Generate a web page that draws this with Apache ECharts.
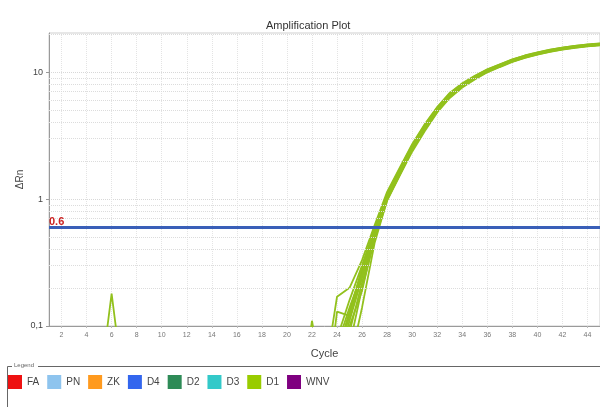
<!DOCTYPE html>
<html>
<head>
<meta charset="utf-8">
<script src="https://cdn.jsdelivr.net/npm/echarts@6/dist/echarts.min.js"></script>
<style>
  html, body { margin: 0; padding: 0; background: #fff; }
  #chart { width: 600px; height: 407px; }
</style>
</head>
<body>
<div id="chart"></div>
<script>
// Cycle numbers 1..45
const cycles = [1,2,3,4,5,6,7,8,9,10,11,12,13,14,15,16,17,18,19,20,21,22,23,24,25,26,27,28,29,30,31,32,33,34,35,36,37,38,39,40,41,42,43,44,45];

// Even cycle tick labels
const cycleTicks = [2,4,6,8,10,12,14,16,18,20,22,24,26,28,30,32,34,36,38,40,42,44];

// ΔRn tick labels on the log axis
const rnTicks = [0.1, 1, 10];

// Detection threshold
const threshold = 0.6;

// Targets shown in the legend
const targets = ['FA', 'PN', 'ZK', 'D4', 'D2', 'D3', 'D1', 'WNV'];
const targetColors = ['#ee1111', '#8ec4ee', '#ff9a1e', '#3366ee', '#2e8b57', '#33c9c9', '#99cc00', '#7f0080'];

// Baseline readings of the D1 wells, cycles 1..22 (below the visible range)
const baseA = [0.02,0.03,0.02,0.02,0.03,0.02,0.03,0.02,0.02,0.03,0.02,0.02,0.03,0.02,0.02,0.03,0.02,0.02,0.03,0.02,0.02,0.03];
const baseB = [0.03,0.02,0.03,0.02,0.03,0.18,0.03,0.02,0.02,0.03,0.02,0.03,0.02,0.02,0.03,0.02,0.03,0.02,0.02,0.03,0.02,0.11];

// D1 wells, cycles 23..45
const d1Wells = [
  [0.03,0.06,0.13,0.28,0.55,1.05,1.65,2.55,3.70,5.10,6.60,7.90,9.10,10.3,11.3,12.4,13.3,14.1,14.8,15.4,15.9,16.3,16.6],
  [0.02,0.05,0.11,0.24,0.52,1.00,1.56,2.42,3.50,4.90,6.35,7.65,8.85,10.0,11.0,12.1,13.0,13.8,14.5,15.1,15.6,16.0,16.3],
  [0.04,0.17,0.20,0.33,0.62,1.14,1.76,2.70,3.88,5.30,6.85,8.15,9.35,10.5,11.5,12.6,13.5,14.3,15.0,15.6,16.1,16.5,16.8],
  [0.02,0.13,0.12,0.27,0.56,1.06,1.62,2.52,3.65,5.05,6.55,7.85,9.05,10.2,11.25,12.3,13.2,14.0,14.7,15.3,15.8,16.2,16.5],
  [0.03,0.04,0.07,0.20,0.48,0.97,1.52,2.36,3.42,4.80,6.25,7.55,8.75,9.95,10.95,12.0,12.9,13.7,14.4,15.0,15.5,15.9,16.2],
  [0.02,0.03,0.05,0.14,0.45,0.98,1.55,2.45,3.60,5.00,6.45,7.75,8.95,10.1,11.15,12.2,13.1,13.9,14.6,15.2,15.7,16.1,16.4],
  [0.03,0.08,0.16,0.30,0.58,1.10,1.72,2.66,3.82,5.24,6.76,8.05,9.25,10.45,11.45,12.55,13.45,14.25,14.95,15.55,16.05,16.45,16.75],
  [0.02,0.05,0.09,0.22,0.50,1.00,1.60,2.50,3.62,5.05,6.50,7.80,9.00,10.2,11.2,12.25,13.15,13.95,14.65,15.25,15.75,16.15,16.45],
  [0.03,0.07,0.14,0.26,0.54,1.04,1.64,2.55,3.68,5.08,6.58,7.88,9.08,10.28,11.28,12.35,13.25,14.05,14.75,15.35,15.85,16.25,16.55],
  [0.02,0.04,0.10,0.19,0.50,1.02,1.61,2.48,3.58,4.98,6.48,7.78,8.98,10.15,11.15,12.2,13.1,13.9,14.6,15.2,15.7,16.1,16.4],
  [0.03,0.06,0.12,0.29,0.58,1.07,1.66,2.58,3.72,5.12,6.64,7.94,9.12,10.32,11.32,12.42,13.32,14.12,14.82,15.42,15.92,16.32,16.62],
  [0.03,0.06,0.12,0.25,0.53,1.03,1.62,2.52,3.64,5.04,6.54,7.84,9.04,10.24,11.24,12.3,13.2,14.0,14.7,15.3,15.8,16.2,16.5]
];

// Minor log grid values (2..9 per decade)
const minorGrid = [0.2,0.3,0.4,0.5,0.6,0.7,0.8,0.9,2,3,4,5,6,7,8,9,20];

const chart = echarts.init(document.getElementById('chart'));

const pair = (vals) => vals.map((v, i) => [cycles[i], v]);

const d1Series = d1Wells.map((tail, i) => ({
  name: 'D1',
  type: 'line',
  data: pair((i === 11 ? baseB : baseA).concat(tail)),
  symbol: 'none',
  smooth: false,
  lineStyle: { color: '#92c11d', width: 1.8 },
  itemStyle: { color: targetColors[6] },
  clip: true,
  z: 3,
  silent: true
}));

const legendSeries = targets.filter(t => t !== 'D1').map(t => ({
  name: t,
  type: 'line',
  data: [],
  itemStyle: { color: targetColors[targets.indexOf(t)] }
}));

// Minor grid lines carried by an empty helper series
const gridSeries = {
  name: '__grid',
  type: 'line',
  data: [],
  silent: true,
  z: 1,
  markLine: {
    silent: true,
    symbol: 'none',
    animation: false,
    label: { show: false },
    lineStyle: { color: '#dcdcdc', type: 'dotted', width: 1 },
    data: minorGrid.map(v => ({ yAxis: v }))
  }
};

const thresholdSeries = {
  name: '__threshold',
  type: 'line',
  data: [],
  silent: true,
  z: 4,
  markLine: {
    silent: true,
    symbol: 'none',
    animation: false,
    lineStyle: { color: '#3a5fb8', type: 'solid', width: 3 },
    label: {
      show: true,
      position: 'insideStartTop',
      distance: [0, 0],
      formatter: String(threshold),
      color: '#cc2222',
      fontSize: 11,
      fontWeight: 'bold',
      fontFamily: 'Liberation Sans, Arial, sans-serif'
    },
    data: [{ yAxis: threshold }]
  }
};

chart.setOption({
  animation: false,
  backgroundColor: '#fff',
  textStyle: { fontFamily: 'Liberation Sans, Arial, sans-serif' },
  title: {
    text: 'Amplification Plot',
    left: 261,
    top: 15,
    textStyle: { fontSize: 11, fontWeight: 'normal', color: '#333' }
  },
  grid: {
    left: 49, right: 0, top: 33, bottom: 81,
    show: true, borderColor: '#cfcfcf', borderWidth: 1
  },
  xAxis: {
    type: 'value',
    min: 1,
    max: 45,
    name: 'Cycle',
    nameLocation: 'middle',
    nameGap: 22,
    nameMoveOverlap: false,
    nameTextStyle: { fontSize: 11, color: '#444' },
    axisLine: { show: true, lineStyle: { color: '#9a9a9a' } },
    axisTick: { show: true, length: 2, customValues: cycleTicks, lineStyle: { color: '#bbb' } },
    axisLabel: { customValues: cycleTicks, fontSize: 7, color: '#777', margin: 6 },
    splitLine: { show: true, lineStyle: { color: '#e4e4e4', type: 'dotted' } }
  },
  yAxis: {
    type: 'log',
    logBase: 10,
    min: 0.1,
    max: 20.3,
    name: 'ΔRn',
    nameLocation: 'middle',
    nameGap: 24,
    nameMoveOverlap: false,
    nameRotate: 90,
    nameTextStyle: { fontSize: 10, color: '#444' },
    axisLine: { show: true, lineStyle: { color: '#9a9a9a' } },
    axisTick: { show: true, length: 3, customValues: rnTicks, lineStyle: { color: '#999' } },
    axisLabel: {
      customValues: rnTicks,
      fontSize: 9, color: '#444', margin: 6,
      formatter: v => String(v).replace('.', ',')
    },
    splitLine: { show: true, lineStyle: { color: '#d8d8d8', type: 'dotted' } }
  },
  legend: {
    data: targets,
    left: 8,
    top: 375,
    padding: 0,
    icon: 'rect',
    itemWidth: 14,
    itemHeight: 14,
    itemGap: 8,
    textStyle: { fontSize: 10, color: '#444' },
    selectedMode: false
  },
  graphic: [
    { type: 'polyline', shape: { points: [[12, 366.5], [7.5, 366.5], [7.5, 407]] },
      style: { stroke: '#666', lineWidth: 1, fill: null } },
    { type: 'line', shape: { x1: 38, y1: 366.5, x2: 600, y2: 366.5 },
      style: { stroke: '#666', lineWidth: 1 } },
    { type: 'text', left: 14, top: 362,
      style: { text: 'Legend', fontSize: 6, fill: '#666', fontFamily: 'Liberation Sans, Arial, sans-serif' } }
  ],
  series: [gridSeries].concat(legendSeries, d1Series, [thresholdSeries])
});
</script>
</body>
</html>
